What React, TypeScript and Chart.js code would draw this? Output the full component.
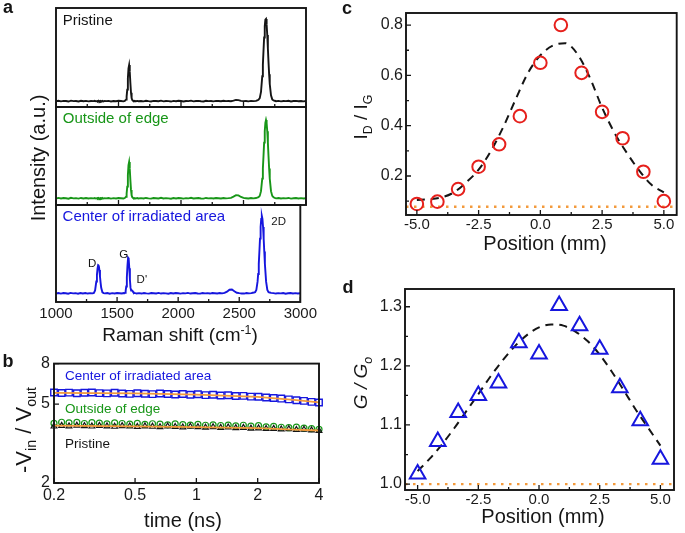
import React, { useEffect, useRef } from "react";
import { Chart, registerables } from "chart.js";

Chart.register(...registerables);

const FONT = "'Liberation Sans', Arial, 'DejaVu Sans', sans-serif";
const INK = "#151515";
const BLUE = "#1616de";
const GREEN = "#189618";
const RED = "#e6201c";
const ORANGE = "#f39a3c";

// ---------- panel a: Raman spectra ----------
const RAMAN_SHIFT = [
  1000, 1020, 1040, 1060, 1080, 1100, 1120, 1140, 1160, 1180, 1200, 1220, 1240, 1260, 1280, 1300,
  1310, 1320, 1330, 1335, 1340, 1345, 1350, 1355, 1360, 1365, 1370, 1380, 1390,
  1400, 1420, 1440, 1460, 1480, 1500, 1520, 1540, 1550,
  1560, 1565, 1570, 1575, 1580, 1585, 1590, 1595, 1600, 1605, 1610, 1615, 1620, 1625, 1630, 1640, 1650, 1660,
  1680, 1700, 1720, 1740, 1760, 1780, 1800, 1820, 1840, 1860, 1880, 1900, 1920, 1940, 1960, 1980, 2000, 2020,
  2040, 2060, 2080, 2100, 2120, 2140, 2160, 2180, 2200, 2220, 2240, 2260, 2280, 2300, 2320, 2340, 2360,
  2380, 2400, 2420, 2440, 2460, 2480, 2500, 2520,
  2540, 2560, 2580, 2600,
  2610, 2620, 2630, 2640, 2650, 2655, 2660, 2665, 2670, 2675, 2680, 2685, 2690, 2695, 2700, 2705, 2710, 2720, 2730, 2740, 2750, 2760,
  2780, 2800, 2820, 2840, 2860, 2880, 2900, 2920, 2940, 2960, 2980, 3000,
];
const PRISTINE = [
  0.058, 0.063, 0.057, 0.062, 0.060, 0.055, 0.064, 0.059, 0.061, 0.056, 0.063, 0.058, 0.062, 0.057, 0.061, 0.059,
  0.062, 0.057, 0.061, 0.058, 0.063, 0.059, 0.056, 0.062, 0.060, 0.058, 0.063, 0.057, 0.061,
  0.059, 0.062, 0.056, 0.061, 0.058, 0.063, 0.060, 0.057, 0.062,
  0.075, 0.107, 0.176, 0.289, 0.391, 0.424, 0.355, 0.242, 0.144, 0.089, 0.071, 0.065, 0.062, 0.058, 0.061, 0.059, 0.062, 0.058,
  0.061, 0.057, 0.063, 0.059, 0.056, 0.062, 0.060, 0.058, 0.064, 0.057, 0.061, 0.059, 0.055, 0.062, 0.058, 0.063, 0.060, 0.056,
  0.061, 0.059, 0.064, 0.057, 0.060, 0.062, 0.058, 0.056, 0.063, 0.059, 0.061, 0.057, 0.062, 0.060, 0.058, 0.063, 0.059,
  0.061, 0.058, 0.064, 0.072, 0.070, 0.062, 0.059, 0.061,
  0.057, 0.062, 0.059, 0.062,
  0.068, 0.073, 0.089, 0.152, 0.310, 0.427, 0.569, 0.702, 0.816, 0.882, 0.889, 0.833, 0.727, 0.594, 0.455, 0.331, 0.232, 0.118, 0.077, 0.066, 0.063, 0.059,
  0.062, 0.057, 0.061, 0.059, 0.063, 0.056, 0.060, 0.062, 0.058, 0.061, 0.057, 0.060,
];
const OUTSIDE_EDGE = [
  0.067, 0.072, 0.066, 0.071, 0.069, 0.064, 0.073, 0.068, 0.070, 0.065, 0.072, 0.067, 0.071, 0.066, 0.070, 0.068,
  0.071, 0.066, 0.070, 0.067, 0.072, 0.068, 0.065, 0.071, 0.069, 0.067, 0.072, 0.066, 0.070,
  0.068, 0.071, 0.065, 0.070, 0.067, 0.072, 0.069, 0.066, 0.071,
  0.084, 0.117, 0.187, 0.302, 0.406, 0.439, 0.369, 0.254, 0.154, 0.099, 0.080, 0.074, 0.071, 0.067, 0.070, 0.068, 0.071, 0.066,
  0.070, 0.066, 0.072, 0.068, 0.065, 0.071, 0.069, 0.067, 0.073, 0.066, 0.070, 0.068, 0.064, 0.071, 0.067, 0.072, 0.069, 0.065,
  0.070, 0.068, 0.073, 0.066, 0.069, 0.071, 0.067, 0.065, 0.072, 0.068, 0.070, 0.066, 0.071, 0.069, 0.067, 0.072, 0.068,
  0.070, 0.073, 0.085, 0.100, 0.098, 0.082, 0.072, 0.069,
  0.066, 0.071, 0.068, 0.071,
  0.075, 0.079, 0.093, 0.141, 0.269, 0.372, 0.500, 0.636, 0.753, 0.837, 0.867, 0.837, 0.753, 0.636, 0.500, 0.372, 0.269, 0.141, 0.093, 0.079, 0.073, 0.068,
  0.071, 0.066, 0.070, 0.068, 0.072, 0.065, 0.069, 0.071, 0.067, 0.070, 0.066, 0.069,
];
const CENTER_AREA = [
  0.088, 0.093, 0.087, 0.092, 0.090, 0.085, 0.094, 0.089, 0.091, 0.086, 0.093, 0.088, 0.092, 0.087, 0.091, 0.089,
  0.094, 0.119, 0.211, 0.278, 0.343, 0.380, 0.376, 0.331, 0.263, 0.199, 0.146, 0.100, 0.092,
  0.089, 0.092, 0.086, 0.091, 0.088, 0.093, 0.090, 0.087, 0.092,
  0.091, 0.096, 0.113, 0.160, 0.253, 0.372, 0.456, 0.446, 0.349, 0.231, 0.148, 0.118, 0.122, 0.116, 0.106, 0.095, 0.091, 0.088,
  0.091, 0.087, 0.093, 0.089, 0.086, 0.092, 0.090, 0.088, 0.094, 0.087, 0.091, 0.089, 0.085, 0.092, 0.088, 0.093, 0.090, 0.086,
  0.091, 0.089, 0.094, 0.087, 0.090, 0.092, 0.088, 0.086, 0.093, 0.089, 0.091, 0.087, 0.092, 0.090, 0.088, 0.093, 0.089,
  0.094, 0.107, 0.127, 0.129, 0.110, 0.095, 0.091, 0.088,
  0.087, 0.092, 0.089, 0.091,
  0.095, 0.098, 0.102, 0.125, 0.210, 0.289, 0.393, 0.520, 0.653, 0.773, 0.857, 0.887, 0.857, 0.773, 0.653, 0.520, 0.393, 0.210, 0.125, 0.102, 0.098, 0.094,
  0.092, 0.087, 0.091, 0.089, 0.093, 0.086, 0.090, 0.092, 0.088, 0.091, 0.087, 0.090,
];
const RAMAN_TICKS = [1000, 1500, 2000, 2500, 3000];
const RAMAN_MINOR = [1250, 1750, 2250, 2750];

// ---------- panel b: gain vs time ----------
const TIME_NS = [
  0.2, 0.218, 0.237, 0.259, 0.282, 0.307, 0.334, 0.364, 0.397, 0.432, 0.471, 0.513, 0.559, 0.609, 0.663, 0.723, 0.787, 0.858,
  0.934, 1.018, 1.109, 1.208, 1.316, 1.433, 1.561, 1.701, 1.853, 2.019, 2.2, 2.396, 2.61, 2.844, 3.098, 3.375, 3.677, 4.0,
];
const CENTER_GAIN = [
  5.72, 5.69, 5.71, 5.67, 5.70, 5.72, 5.68, 5.66, 5.70, 5.65, 5.63, 5.67, 5.64, 5.61, 5.65, 5.62, 5.59, 5.62,
  5.57, 5.60, 5.55, 5.57, 5.52, 5.54, 5.49, 5.50, 5.45, 5.44, 5.40, 5.37, 5.33, 5.28, 5.23, 5.19, 5.13, 5.09,
];
const EDGE_GAIN = [
  4.00, 4.05, 4.02, 4.04, 3.99, 4.03, 4.01, 3.97, 4.02, 3.99, 3.96, 4.00, 3.95, 3.98, 3.96, 3.93, 3.97, 3.94,
  3.92, 3.95, 3.91, 3.93, 3.90, 3.92, 3.88, 3.91, 3.87, 3.89, 3.84, 3.86, 3.82, 3.80, 3.83, 3.78, 3.76, 3.73,
];
const PRISTINE_GAIN = [
  3.86, 3.89, 3.87, 3.90, 3.88, 3.86, 3.89, 3.87, 3.85, 3.88, 3.86, 3.84, 3.87, 3.85, 3.83, 3.86, 3.84, 3.82,
  3.85, 3.83, 3.81, 3.83, 3.80, 3.82, 3.79, 3.80, 3.77, 3.78, 3.75, 3.76, 3.73, 3.74, 3.71, 3.72, 3.69, 3.67,
];
const T_FIT = [0.2, 0.5, 1, 2, 3, 4];
const CENTER_FIT = [5.70, 5.66, 5.58, 5.43, 5.25, 5.10];
const PRISTINE_FIT = [3.89, 3.86, 3.83, 3.78, 3.72, 3.68];
const TIME_TICKS = [0.2, 0.5, 1, 2, 4];
const GAIN_TICKS = [2, 5, 8];

// ---------- panels c, d: profiles vs position ----------
const POSITION_MM = [-5, -4.17, -3.33, -2.5, -1.67, -0.83, 0, 0.83, 1.67, 2.5, 3.33, 4.17, 5];
const ID_IG = [0.089, 0.098, 0.148, 0.237, 0.326, 0.438, 0.65, 0.8, 0.61, 0.455, 0.35, 0.217, 0.1];
const G_G0 = [1.017, 1.072, 1.121, 1.15, 1.171, 1.239, 1.22, 1.302, 1.268, 1.228, 1.163, 1.107, 1.042];
const FIT_POS = [-5, -4.5, -4, -3.5, -3, -2.5, -2, -1.5, -1, -0.5, 0, 0.5, 1, 1.5, 2, 2.5, 3, 3.5, 4, 4.5, 5];
const FIT_ID_IG = [0.105, 0.108, 0.115, 0.135, 0.175, 0.225, 0.3, 0.395, 0.505, 0.61, 0.68, 0.718, 0.728, 0.685, 0.592, 0.472, 0.372, 0.292, 0.222, 0.165, 0.135];
const FIT_G_G0 = [1.022, 1.043, 1.067, 1.094, 1.123, 1.152, 1.182, 1.209, 1.233, 1.252, 1.265, 1.27, 1.268, 1.258, 1.242, 1.219, 1.19, 1.158, 1.125, 1.095, 1.065];
const ID_IG_PRISTINE = 0.078;
const G_G0_PRISTINE = 1.0;
const POS_TICKS = [-5, -2.5, 0, 2.5, 5];
const POS_MINOR = [-3.75, -1.25, 1.25, 3.75];
const ID_IG_TICKS = [0.2, 0.4, 0.6, 0.8];
const ID_IG_MINOR = [0.1, 0.3, 0.5, 0.7];
const G_G0_TICKS = [1.0, 1.1, 1.2, 1.3];
const G_G0_MINOR = [1.05, 1.15, 1.25];
const C_RANGE = { xmin: -5.44, xmax: 5.52, ymin: 0.045, ymax: 0.848 };
const D_RANGE = { xmin: -5.52, xmax: 5.56, ymin: 0.99, ymax: 1.33 };

type Lbl = { text: string; x: number; y: number; color: string; size: number };

function decor(cfg: { xMajor?: number[]; xMinor?: number[]; yMajor?: number[]; yMinor?: number[]; labels?: Lbl[] }) {
  return {
    id: "decor",
    afterDatasetsDraw(chart: any) {
      const { ctx, chartArea: a, scales } = chart;
      const xs = scales.x;
      const ys = scales.y;
      ctx.save();
      ctx.strokeStyle = INK;
      ctx.lineWidth = 1.3;
      ctx.setLineDash([]);
      ctx.beginPath();
      const vx = (vals: number[] | undefined, len: number) =>
        (vals || []).forEach((v) => {
          const p = xs.getPixelForValue(v);
          ctx.moveTo(p, a.bottom);
          ctx.lineTo(p, a.bottom - len);
        });
      const vy = (vals: number[] | undefined, len: number) =>
        (vals || []).forEach((v) => {
          const p = ys.getPixelForValue(v);
          ctx.moveTo(a.left, p);
          ctx.lineTo(a.left + len, p);
        });
      vx(cfg.xMajor, 5);
      vx(cfg.xMinor, 3);
      vy(cfg.yMajor, 5);
      vy(cfg.yMinor, 3);
      ctx.stroke();
      ctx.lineWidth = 1.9;
      ctx.strokeRect(a.left, a.top, a.right - a.left, a.bottom - a.top);
      (cfg.labels || []).forEach((l) => {
        ctx.font = `${l.size}px ${FONT}`;
        ctx.fillStyle = l.color;
        ctx.textAlign = "left";
        ctx.textBaseline = "middle";
        ctx.fillText(l.text, xs.getPixelForValue(l.x), ys.getPixelForValue(l.y));
      });
      ctx.restore();
    },
  };
}

function axis(o: {
  type?: string;
  min: number;
  max: number;
  ticks?: number[];
  fmt?: (v: number) => string;
  size?: number;
  pad?: number;
  fixed: number;
  horizontal: boolean;
  show: boolean;
}) {
  return {
    type: o.type || "linear",
    min: o.min,
    max: o.max,
    grid: { display: false, drawTicks: false },
    border: { display: false },
    ticks: {
      display: o.show,
      autoSkip: false,
      maxRotation: 0,
      minRotation: 0,
      padding: o.pad ?? 3,
      color: "#1a1a1a",
      font: { family: FONT, size: o.size ?? 15 },
      callback: (v: any) => (o.fmt ? o.fmt(Number(v)) : String(v)),
    },
    afterBuildTicks: (s: any) => {
      if (o.ticks) s.ticks = o.ticks.map((v) => ({ value: v }));
    },
    afterFit: (s: any) => {
      if (o.horizontal) s.height = o.fixed;
      else s.width = o.fixed;
    },
  };
}

function baseOptions(pad: { top: number; right: number }, scales: any) {
  return {
    responsive: false,
    animation: false,
    events: [],
    layout: { padding: { top: pad.top, right: pad.right, left: 0, bottom: 0 } },
    plugins: { legend: { display: false }, tooltip: { enabled: false } },
    scales,
  };
}

function spectrumConfig(values: number[], color: string, top: number, xHeight: number, show: boolean, labels: Lbl[]) {
  return {
    type: "line",
    data: {
      datasets: [
        {
          data: RAMAN_SHIFT.map((x, i) => ({ x, y: values[i] })),
          borderColor: color,
          borderWidth: 1.9,
          pointRadius: 0,
          tension: 0,
        },
      ],
    },
    options: baseOptions(
      { top, right: 14 },
      {
        x: axis({ min: 1000, max: 3000, ticks: RAMAN_TICKS, size: 15, pad: 3, fixed: xHeight, horizontal: true, show }),
        y: axis({ min: 0, max: 1, fixed: 56, horizontal: false, show: false }),
      }
    ),
    plugins: [decor({ xMajor: RAMAN_TICKS, xMinor: RAMAN_MINOR, labels })],
  };
}

const pts = (xs: number[], ys: number[]) => xs.map((x, i) => ({ x, y: ys[i] }));
const NONE = "rgba(0,0,0,0)";

function gainConfig() {
  const marker = (data: number[], style: string, r: number, color: string, bw: number) => ({
    data: pts(TIME_NS, data),
    showLine: false,
    pointStyle: style,
    pointRadius: r,
    pointBorderWidth: bw,
    borderColor: color,
    pointBorderColor: color,
    backgroundColor: NONE,
    pointBackgroundColor: NONE,
    clip: 6,
  });
  return {
    type: "line",
    data: {
      datasets: [
        { data: pts(T_FIT, CENTER_FIT), borderColor: ORANGE, borderWidth: 1.8, pointRadius: 0 },
        { data: pts(T_FIT, PRISTINE_FIT), borderColor: ORANGE, borderWidth: 1.8, pointRadius: 0 },
        marker(PRISTINE_GAIN, "triangle", 3.3, INK, 1.2),
        marker(EDGE_GAIN, "circle", 3, GREEN, 1.2),
        marker(CENTER_GAIN, "rect", 4.6, BLUE, 1.4),
      ],
    },
    options: baseOptions(
      { top: 13, right: 11 },
      {
        x: axis({ type: "logarithmic", min: 0.2, max: 4, ticks: TIME_TICKS, size: 16, pad: 3, fixed: 27, horizontal: true, show: true }),
        y: axis({ type: "logarithmic", min: 2, max: 8, ticks: GAIN_TICKS, size: 16, pad: 4, fixed: 54, horizontal: false, show: true }),
      }
    ),
    plugins: [
      decor({
        xMajor: TIME_TICKS,
        yMajor: GAIN_TICKS,
        labels: [
          { text: "Center of irradiated area", x: 0.2265, y: 6.9, color: BLUE, size: 13.5 },
          { text: "Outside of edge", x: 0.2265, y: 4.73, color: GREEN, size: 13.5 },
          { text: "Pristine", x: 0.2265, y: 3.14, color: INK, size: 13.5 },
        ],
      }),
    ],
  };
}

function profileConfig(
  values: number[],
  fit: number[],
  base: number,
  range: { xmin: number; xmax: number; ymin: number; ymax: number },
  marker: { style: string; r: number; color: string },
  yTicks: number[],
  yMinor: number[],
  pad: { top: number; right: number },
  yWidth: number,
  xHeight: number
) {
  return {
    type: "line",
    data: {
      datasets: [
        {
          data: pts(POSITION_MM, values),
          showLine: false,
          pointStyle: marker.style,
          pointRadius: marker.r,
          pointBorderWidth: 2,
          borderColor: marker.color,
          pointBorderColor: marker.color,
          backgroundColor: NONE,
          pointBackgroundColor: NONE,
          clip: false,
        },
        {
          data: pts(FIT_POS, fit),
          borderColor: INK,
          borderWidth: 2,
          borderDash: [8, 6],
          pointRadius: 0,
          cubicInterpolationMode: "monotone",
        },
        {
          data: [
            { x: range.xmin, y: base },
            { x: range.xmax, y: base },
          ],
          borderColor: ORANGE,
          borderWidth: 2.4,
          borderDash: [2.5, 5.5],
          pointRadius: 0,
        },
      ],
    },
    options: baseOptions(pad, {
      x: axis({ min: range.xmin, max: range.xmax, ticks: POS_TICKS, fmt: (v) => v.toFixed(1), size: 15, pad: 1, fixed: xHeight, horizontal: true, show: true }),
      y: axis({ min: range.ymin, max: range.ymax, ticks: yTicks, fmt: (v) => v.toFixed(1), size: 16, pad: 3, fixed: yWidth, horizontal: false, show: true }),
    }),
    plugins: [decor({ xMajor: POS_TICKS, xMinor: POS_MINOR, yMajor: yTicks, yMinor })],
  };
}

function ChartBox({ left, top, width, height, make }: { left: number; top: number; width: number; height: number; make: () => any }) {
  const ref = useRef<HTMLCanvasElement>(null);
  useEffect(() => {
    const chart = new Chart(ref.current as HTMLCanvasElement, make());
    return () => chart.destroy();
  }, []);
  return <canvas ref={ref} width={width} height={height} style={{ position: "absolute", left, top, width, height }} />;
}

function Txt({ x, y, size, rotate, bold, italic, color, children }: any) {
  return (
    <div
      style={{
        position: "absolute",
        left: x,
        top: y,
        transform: `translate(-50%,-50%)${rotate ? " rotate(-90deg)" : ""}`,
        fontSize: size,
        lineHeight: 1,
        whiteSpace: "nowrap",
        fontWeight: bold ? "bold" : "normal",
        fontStyle: italic ? "italic" : "normal",
        color: color || INK,
        fontFamily: FONT,
      }}
    >
      {children}
    </div>
  );
}

const sub = (t: string) => <span style={{ fontSize: "0.65em", position: "relative", top: "0.38em" }}>{t}</span>;

export default function App() {
  return (
    <div style={{ position: "absolute", left: 0, top: 0, width: 685, height: 533, background: "#fff", overflow: "hidden", fontFamily: FONT }}>
      <ChartBox left={0} top={0} width={320} height={114} make={() => spectrumConfig(PRISTINE, INK, 8, 7, false, [{ text: "Pristine", x: 1054, y: 0.871, color: INK, size: 15 }])} />
      <ChartBox left={0} top={100} width={320} height={112} make={() => spectrumConfig(OUTSIDE_EDGE, GREEN, 7, 7, false, [{ text: "Outside of edge", x: 1054, y: 0.883, color: GREEN, size: 15 }])} />
      <ChartBox
        left={0}
        top={198}
        width={320}
        height={130}
        make={() =>
          spectrumConfig(CENTER_AREA, BLUE, 7, 26, true, [
            { text: "Center of irradiated area", x: 1054, y: 0.879, color: BLUE, size: 15 },
            { text: "D", x: 1262, y: 0.395, color: INK, size: 11.5 },
            { text: "G", x: 1518, y: 0.49, color: INK, size: 11.5 },
            { text: "D'", x: 1660, y: 0.227, color: INK, size: 11.5 },
            { text: "2D", x: 2762, y: 0.828, color: INK, size: 11.5 },
          ])
        }
      />
      <ChartBox left={0} top={350} width={330} height={160} make={gainConfig} />
      <ChartBox
        left={340}
        top={0}
        width={345}
        height={245}
        make={() => profileConfig(ID_IG, FIT_ID_IG, ID_IG_PRISTINE, C_RANGE, { style: "circle", r: 6.3, color: RED }, ID_IG_TICKS, ID_IG_MINOR, { top: 13, right: 3 }, 66, 30)}
      />
      <ChartBox
        left={340}
        top={275}
        width={345}
        height={240}
        make={() => profileConfig(G_G0, FIT_G_G0, G_G0_PRISTINE, D_RANGE, { style: "triangle", r: 9, color: BLUE }, G_G0_TICKS, G_G0_MINOR, { top: 14, right: 3 }, 65, 25)}
      />

      <Txt x={8} y={7} size={18} bold>a</Txt>
      <Txt x={8} y={361} size={18} bold>b</Txt>
      <Txt x={347} y={8} size={18} bold>c</Txt>
      <Txt x={348} y={287} size={18} bold>d</Txt>

      <Txt x={38} y={158} size={20} rotate>Intensity (a.u.)</Txt>
      <Txt x={180} y={334} size={19}>
        Raman shift (cm<span style={{ fontSize: "0.65em", position: "relative", top: "-0.55em" }}>-1</span>)
      </Txt>
      <Txt x={24} y={430} size={22} rotate>
        -V{sub("in")} / V{sub("out")}
      </Txt>
      <Txt x={183} y={520} size={20}>time (ns)</Txt>
      <Txt x={360} y={117} size={19} rotate>
        I{sub("D")} / I{sub("G")}
      </Txt>
      <Txt x={545} y={243} size={20}>Position (mm)</Txt>
      <Txt x={360} y={383} size={19} rotate italic>
        G / G{sub("o")}
      </Txt>
      <Txt x={543} y={516} size={20}>Position (mm)</Txt>
    </div>
  );
}
